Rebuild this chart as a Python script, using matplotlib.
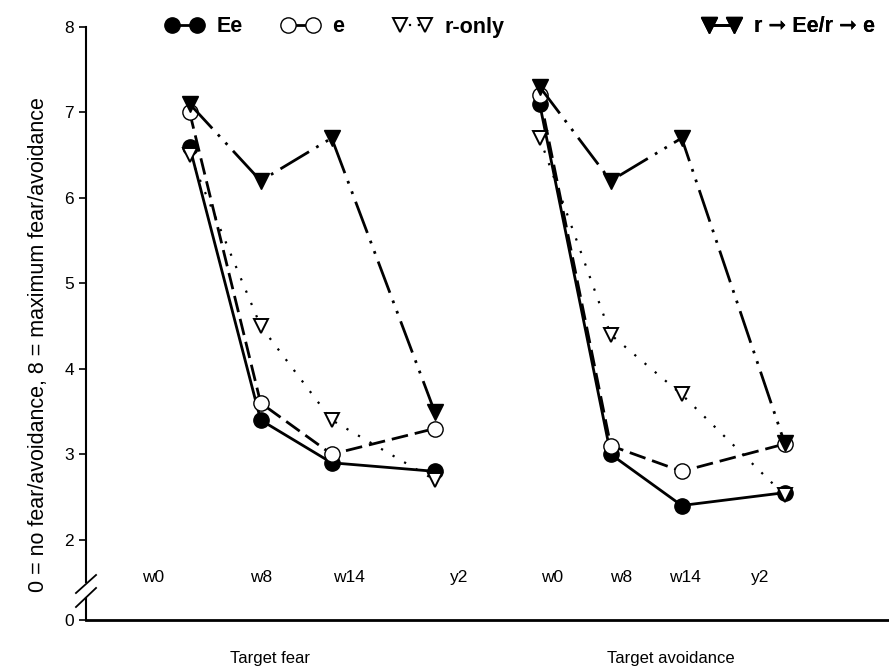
import numpy as np
import matplotlib.pyplot as plt
from matplotlib.lines import Line2D

plt.rcParams['font.family'] = ['Liberation Sans', 'DejaVu Sans']

# time points and their positions inside each panel
times = ['w0', 'w8', 'w14', 'y2']
pos = np.array([0, 1, 2, 3.45])
offset = 4.93
groups = ['Target fear', 'Target avoidance']

# group means (fear, avoidance)
ee_fear = [6.6, 3.4, 2.9, 2.8]
ee_avoid = [7.1, 3.0, 2.4, 2.55]
e_fear = [7.0, 3.6, 3.0, 3.3]
e_avoid = [7.2, 3.1, 2.8, 3.12]
ronly_fear = [6.5, 4.5, 3.4, 2.7]
ronly_avoid = [6.7, 4.4, 3.7, 2.52]
rcross_fear = [7.1, 6.2, 6.7, 3.5]
rcross_avoid = [7.3, 6.2, 6.7, 3.13]

labels = ['Ee', 'e', 'r-only', 'r \u279e Ee/r \u279e e']

fig = plt.figure(figsize=(8.89, 6.66), dpi=100)
ax = fig.add_axes([86/889, 46/666, 803/889, 593/666])

styles = [
    dict(marker='o', mfc='black', mec='black', ls='-', lw=2),
    dict(marker='o', mfc='white', mec='black', ls=(0, (6, 2.5)), lw=2),
    dict(marker='v', mfc='white', mec='black', ls=(0, (1, 5)), lw=1.6, mew=1.4),
    dict(marker='v', mfc='black', mec='black', ls=(0, (12, 3, 1, 3, 1, 3)), lw=2),
]
series = [(ee_fear, ee_avoid), (e_fear, e_avoid),
          (ronly_fear, ronly_avoid), (rcross_fear, rcross_avoid)]
ms = [11, 11, 10.5, 11]
zo = [4, 5, 6, 7]

for i in range(4):
    fear, avoid = series[i]
    for g, vals in enumerate([fear, avoid]):
        ax.plot(pos + g * offset, vals, color='black', ms=ms[i], zorder=zo[i],
                clip_on=False, **styles[i])

ax.set_xlim(-1.46, 9.85)
ymin = 1.06
ax.set_ylim(ymin, 8)
ax.set_yticks([ymin, 2, 3, 4, 5, 6, 7, 8])
ax.set_yticklabels(['0', '2', '3', '4', '5', '6', '7', '8'], fontsize=12.5)
ax.set_xticks([])
ax.tick_params(axis='y', direction='out', length=5, width=1.2)

for s in ['top', 'right', 'left']:
    ax.spines[s].set_visible(False)
ax.spines['bottom'].set_linewidth(2)

# broken left axis
ax.plot([0, 0], [1, 0.064], transform=ax.transAxes, color='black', lw=1.5, clip_on=False)
ax.plot([0, 0], [0.037, 0], transform=ax.transAxes, color='black', lw=1.5, clip_on=False)
ax.plot([-0.0125, 0.0125], [0.0455, 0.0759], transform=ax.transAxes, color='black', lw=1.3, clip_on=False)
ax.plot([-0.0125, 0.0125], [0.0219, 0.054], transform=ax.transAxes, color='black', lw=1.3, clip_on=False)

# time labels inside the plot
lab_fear = [-0.52, 1.01, 2.25, 3.8]
lab_avoid = [5.11, 6.07, 6.97, 8.04]
for xs in [lab_fear, lab_avoid]:
    for x, t in zip(xs, times):
        ax.text(x, 1.56, t, ha='center', va='center', fontsize=12.5)

for x, g in zip([1.13, 6.77], groups):
    ax.text(x, -0.065, g, transform=ax.get_xaxis_transform(), ha='center',
            va='center', fontsize=12)

ax.set_ylabel('0 = no fear/avoidance, 8 = maximum fear/avoidance', fontsize=15.5)
ax.yaxis.set_label_coords(-0.046, 0.465)

# legend entries spread across the top
leg_x = [0.075, 0.219, 0.359, 0.744]
for i in range(4):
    st = dict(styles[i])
    if i != 2:
        st['ls'] = '-'
    else:
        st['ls'] = (0, (1, 3))
    h = Line2D([], [], color='black', ms=ms[i], **st)
    leg = ax.legend([h], [labels[i]], loc='center left', bbox_to_anchor=(leg_x[i], 1.0),
                    frameon=False, numpoints=2, handlelength=1.76, handletextpad=0.6,
                    prop=dict(weight='bold', size=15.5))
    ax.add_artist(leg)

fig.savefig('out.png', dpi=100)
